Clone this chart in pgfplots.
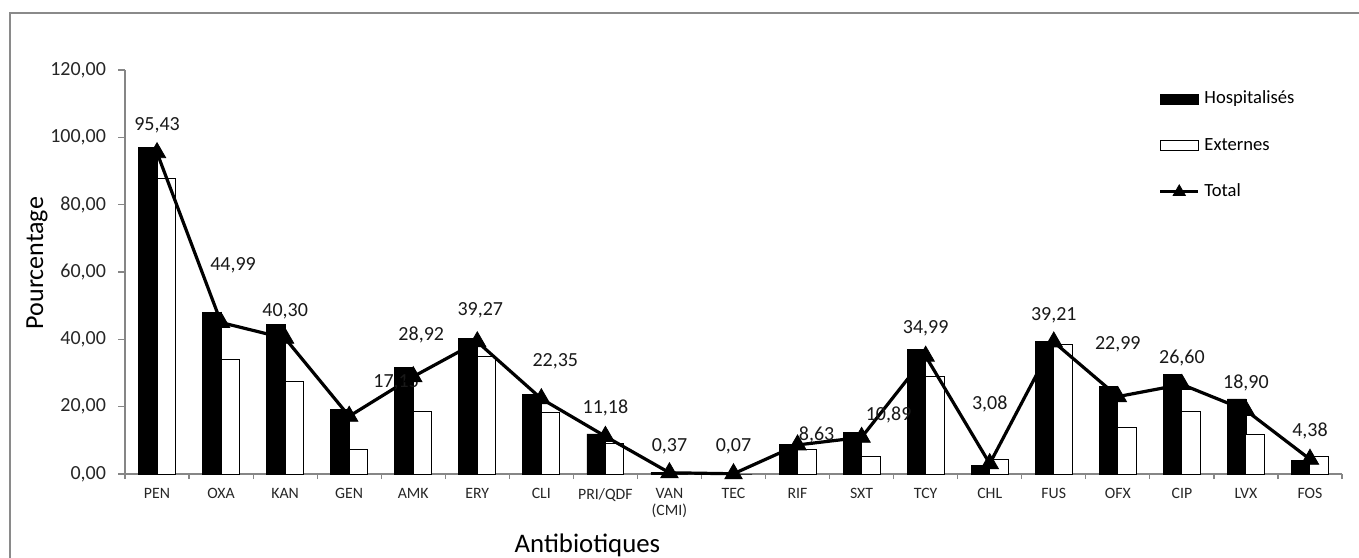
\documentclass[border=0pt]{standalone}
\usepackage{fontspec}
\setmainfont{Carlito}
\usepackage{pgfplots}
\usepackage{pgfplotstable}
\pgfplotsset{compat=1.18}

\definecolor{axisgray}{HTML}{868686}
\definecolor{framegray}{HTML}{8A8A8A}

% Résistance par antibiotique (%)
\pgfplotstableread{
x hosp ext total dx dy
0 96.9 87.8 95.43 0 13.5
1 47.9 33.9 44.99 6 28.5
2 44.3 27.4 40.30 0 13.5
3 19.2 7.3 17.15 23.5 17
4 31.6 18.5 28.92 4 21
5 40.3 34.8 39.27 1.5 16
6 23.5 18.3 22.35 7 18.5
7 11.9 9.1 11.18 0 14
8 0.5 0.0 0.37 0 13
9 0.0 0.0 0.07 0 13.5
10 8.7 7.3 8.63 9.5 5
11 12.4 5.1 10.89 13.5 11
12 37.0 29.0 34.99 0 14
13 2.5 4.2 3.08 0 30
14 39.3 38.6 39.21 0 13.5
15 25.9 13.9 22.99 0 26
16 29.6 18.6 26.60 0 13
17 22.3 11.8 18.90 0 13.5
18 4.0 5.1 4.38 0 14
}\data

\pgfplotsset{
  barlegend/.style={legend image code/.code={\draw[##1] (0pt,-2.6pt) rectangle (19pt,2.6pt);}},
  linelegend/.style={legend image code/.code={\draw[##1, mark size=3.5pt, mark repeat=2, mark phase=2]
    plot coordinates {(0pt,0pt) (9.5pt,0pt) (19pt,0pt)};}},
}

\begin{document}
\begin{tikzpicture}
\path[use as bounding box] (0,0) rectangle (679.5pt,278.5pt);
\draw[framegray, line width=1pt] (5pt,-2pt) -- (5pt,272pt) -- (682pt,272pt);
\begin{axis}[
  at={(62.5pt,41.5pt)}, anchor=south west,
  scale only axis,
  width=608.5pt, height=202pt,
  xmin=-0.5, xmax=18.5,
  ymin=0, ymax=120,
  axis x line=bottom, axis y line=left,
  axis line style={axisgray, line width=0.6pt, -},
  every tick/.style={axisgray, line width=0.6pt},
  tick align=outside,
  major tick length=3.5pt,
  minor tick length=2.5pt,
  xtick={0,...,18},
  every major x tick/.append style={draw=none},
  minor xtick={-0.5,0.5,...,18.5},
  xticklabels={PEN,OXA,KAN,GEN,AMK,ERY,CLI,PRI/QDF,{VAN\\(CMI)},TEC,RIF,SXT,TCY,CHL,FUS,OFX,CIP,LVX,FOS},
  xticklabel style={font=\fontsize{7.9}{8.6}\selectfont, align=center, anchor=north, text=black!85},
  ytick={0,20,...,120},
  yticklabel style={font=\fontsize{10}{11}\selectfont, xshift=-2.5pt, text=black!85,
    /pgf/number format/.cd, fixed, fixed zerofill, precision=2, use comma},
  /pgf/number format/assume math mode=true,
  xlabel={Antibiotiques},
  xlabel style={at={(axis description cs:0.380,-0.176)}, anchor=center,
    font=\fontsize{13.4}{15}\selectfont},
  ylabel={Pourcentage},
  ylabel style={at={(axis description cs:-0.0723,0.522)}, anchor=center,
    font=\fontsize{13}{15}\selectfont},
  legend style={draw=none, fill=none, at={(rel axis cs:0.849,0.953)},
    anchor=north west, inner sep=0pt, row sep=13pt,
    font=\fontsize{9.3}{10}\selectfont,
    nodes={inner sep=0.8pt, text height=6.5pt, text depth=2pt},
    /tikz/every odd column/.append style={column sep=1.5pt}},
  legend cell align=left,
  clip=false,
]
% valeurs du total au-dessus des points
\addplot[draw=none, mark=none, forget plot,
  visualization depends on={\thisrow{dx} \as \dx},
  visualization depends on={\thisrow{dy} \as \dy},
  nodes near coords={\pgfmathprintnumber[fixed,fixed zerofill,precision=2,use comma]{\pgfplotspointmeta}},
  nodes near coords style={anchor=center, xshift=\dx, yshift=\dy,
    font=\fontsize{10}{11}\selectfont, text=black!90},
] table[x=x, y=total] {\data};

\addplot[ybar, bar width=9.25pt, bar shift=-4.625pt, fill=black, draw=black, line width=0.4pt, barlegend]
  table[x=x, y=hosp] {\data};
\addlegendentry{Hospitalisés}

\addplot[ybar, bar width=9.25pt, bar shift=4.625pt, fill=white, draw=black, line width=0.5pt, barlegend]
  table[x=x, y=ext] {\data};
\addlegendentry{Externes}

\addplot[black, line width=1.6pt, mark=triangle*, mark size=5pt,
  mark options={solid, fill=black, line width=0.4pt}, linelegend]
  table[x=x, y=total] {\data};
\addlegendentry{Total}
\end{axis}
\end{tikzpicture}
\end{document}
